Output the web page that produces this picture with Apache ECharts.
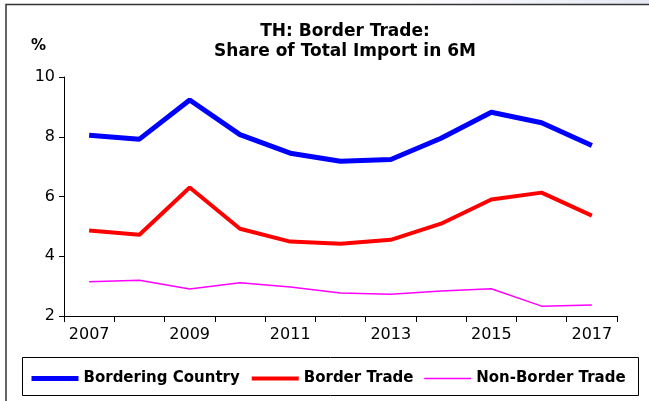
<!DOCTYPE html>
<html>
<head>
<meta charset="utf-8">
<script src="https://cdn.jsdelivr.net/npm/echarts@6/dist/echarts.min.js"></script>
<style>
html,body{margin:0;padding:0;background:#fff;}
#c{width:649px;height:401px;}
</style>
</head>
<body>
<div id="c"></div>
<script>
const years = ['2007','2008','2009','2010','2011','2012','2013','2014','2015','2016','2017'];
const borderingCountry = [8.05, 7.92, 9.23, 8.07, 7.45, 7.18, 7.24, 7.95, 8.82, 8.47, 7.71];
const borderTrade = [4.86, 4.72, 6.30, 4.92, 4.49, 4.42, 4.55, 5.09, 5.90, 6.13, 5.36];
const nonBorderTrade = [3.15, 3.20, 2.90, 3.11, 2.97, 2.77, 2.73, 2.84, 2.91, 2.33, 2.37];
const yTicks = [2, 4, 6, 8, 10];

const chart = echarts.init(document.getElementById('c'), null, {renderer: 'canvas'});
const font = '"DejaVu Sans", sans-serif';
chart.setOption({
  animation: false,
  backgroundColor: '#fff',
  textStyle: {fontFamily: font},
  title: {
    text: 'TH: Border Trade:\nShare of Total Import in 6M',
    left: 340, top: 17, textAlign: 'center',
    textStyle: {fontSize: 17, fontWeight: 'bold', color: '#000', lineHeight: 20, fontFamily: font}
  },
  graphic: [
    {type: 'rect', z: -10, shape: {x: 0, y: 0, width: 649, height: 4},
     style: {fill: new echarts.graphic.LinearGradient(0, 0, 1, 0, [{offset: 0, color: '#ffffff'}, {offset: 0.6, color: '#ffffff'}, {offset: 1, color: '#e6e8f4'}])}},
    {type: 'rect', z: -5, shape: {x: 6, y: 4.5, width: 700, height: 500},
     style: {fill: '#fff', stroke: '#333', lineWidth: 1.5}},
    {type: 'rect', z: -4, shape: {x: 22.5, y: 357.5, width: 616, height: 38},
     style: {fill: '#fff', stroke: '#000', lineWidth: 1}},
    {type: 'text', left: 31, top: 39, style: {text: '%', fontSize: 15, fontWeight: 'bold', fill: '#000', fontFamily: font}}
  ],
  legend: {
    left: 29, top: 371, padding: 0,
    itemWidth: 47, itemHeight: 14, itemGap: 10,
    itemStyle: {opacity: 0},
    textStyle: {fontSize: 15, fontWeight: 'bold', color: '#000', fontFamily: font},
    data: [
      {name: 'Bordering Country', lineStyle: {width: 5}},
      {name: 'Border Trade', lineStyle: {width: 4}},
      {name: 'Non-Border Trade', lineStyle: {width: 1.5}}
    ]
  },
  grid: {left: 64, right: 32, top: 77, bottom: 85, outerBoundsMode: 'none', containLabel: false},
  xAxis: {
    type: 'category', data: years, boundaryGap: true,
    axisLine: {lineStyle: {color: '#000', width: 1}},
    axisTick: {show: true, interval: 0, length: 6, lineStyle: {color: '#000'}},
    axisLabel: {interval: 1, fontSize: 16, color: '#000', margin: 11, fontFamily: font},
    splitLine: {show: false}
  },
  yAxis: {
    type: 'value', min: yTicks[0], max: yTicks[yTicks.length - 1], interval: 2,
    axisLine: {show: true, lineStyle: {color: '#000', width: 1}},
    axisTick: {show: true, length: 5, lineStyle: {color: '#000'}},
    axisLabel: {fontSize: 16, color: '#000', margin: 9, fontFamily: font},
    splitLine: {show: false}
  },
  series: [
    {name: 'Bordering Country', type: 'line', data: borderingCountry, symbol: 'none',
     lineStyle: {color: '#0000ff', width: 5}, itemStyle: {color: '#0000ff'}},
    {name: 'Border Trade', type: 'line', data: borderTrade, symbol: 'none',
     lineStyle: {color: '#ff0000', width: 4}, itemStyle: {color: '#ff0000'}},
    {name: 'Non-Border Trade', type: 'line', data: nonBorderTrade, symbol: 'none',
     lineStyle: {color: '#ff00ff', width: 1.5}, itemStyle: {color: '#ff00ff'}}
  ]
});
</script>
</body>
</html>
